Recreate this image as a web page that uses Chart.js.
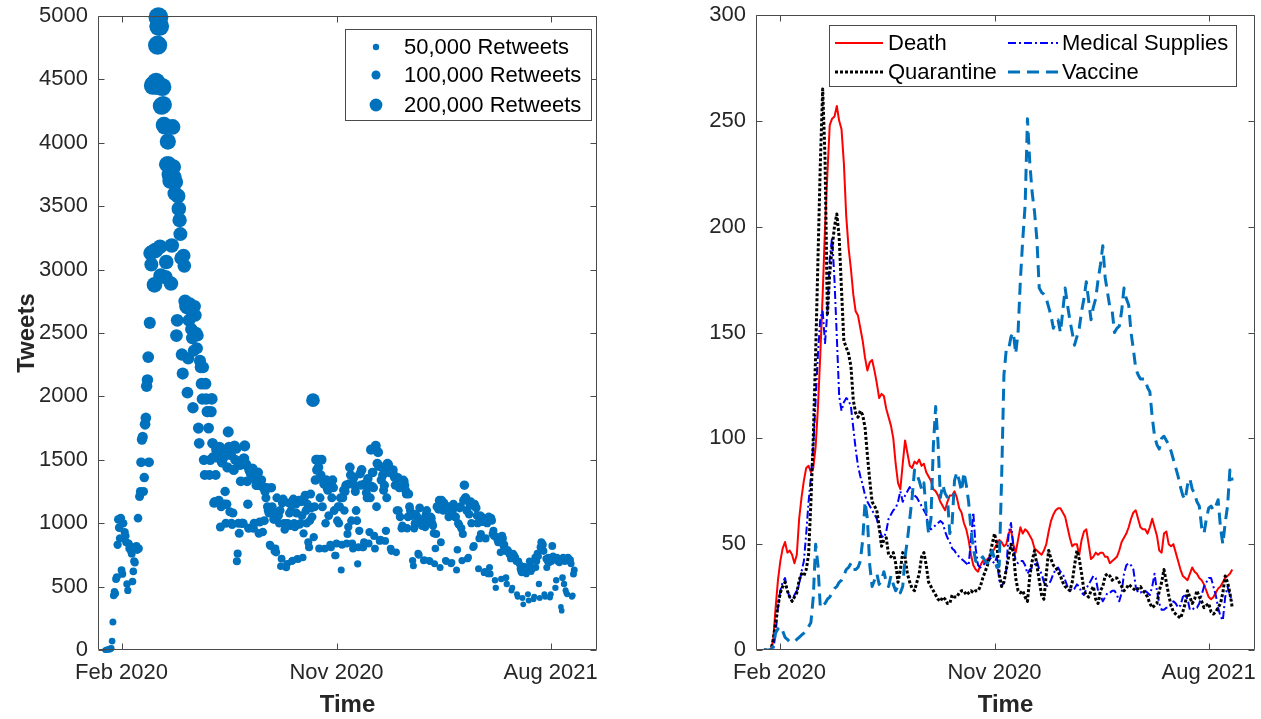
<!DOCTYPE html>
<html>
<head>
<meta charset="utf-8">
<title>COVID-19 tweets over time</title>
<script src="https://cdn.jsdelivr.net/npm/chart.js@4.4.1/dist/chart.umd.min.js"></script>
<style>
  html, body { margin: 0; padding: 0; background: #ffffff; }
  #wrap { position: relative; width: 1261px; height: 719px; overflow: hidden; }
  #tweets { position: absolute; left: 0; top: 0; width: 630px; height: 719px; }
  #topics { position: absolute; left: 630px; top: 0; width: 631px; height: 719px; }
</style>
</head>
<body>
<div id="wrap">
  <canvas id="tweets" width="630" height="719"></canvas>
  <canvas id="topics" width="631" height="719"></canvas>
</div>
<script>
// ---------------- Tweets per day (left panel), one value per day ----------------
const tweetsStart = '2020-01-11';
const dailyTweets = [
  0,0,4,0,6,2,10,
  5,14,70,220,430,460,445,
  560,575,830,1030,965,880,1040,
  630,600,1000,880,930,900,850,
  520,470,840,800,820,780,760,
  540,620,700,690,800,820,790,
  1040,800,1210,1250,1480,1660,1680,
  1250,1360,1780,1830,2080,2130,2310,
  1480,2580,3130,3040,3140,4450,4460,
  2880,3150,4480,4450,4770,4990,4920,
  3180,2950,4290,4440,4300,4140,4130,
  2940,3060,3830,4010,3830,3750,3700,
  2890,3190,4125,3810,3730,3600,3690,
  2480,2600,3580,3480,3390,3280,3090,
  2330,2180,3110,3030,2750,2710,2700,
  2030,2300,2600,2730,2680,2530,2460,
  1910,2360,2710,2640,2500,2380,2480,
  1750,1630,2280,2230,2100,1980,2230,
  1500,1380,2100,1980,1880,1880,1750,
  1380,1500,1880,1980,1630,1520,1160,
  1170,1380,1580,1520,1560,1180,1600,
  970,1130,1480,1560,1520,1150,1250,
  1000,1150,1440,1720,1600,1090,1540,
  1000,990,1080,1420,1610,1500,1590,
  700,760,1000,920,1460,1330,1000,
  1000,1000,1510,1610,1470,1460,1330,
  1150,960,1420,1410,1390,1380,1430,
  960,1000,1360,1340,1300,1300,1400,
  920,1010,1330,1340,1290,930,1280,
  1020,1250,1200,1280,1130,1100,1080,
  830,820,1280,1130,1070,1030,780,
  800,770,1200,1080,1060,1000,1100,
  660,720,1160,1190,1000,950,1000,
  650,680,1000,1160,1080,980,1100,
  700,705,1190,1000,970,1150,1080,
  720,715,1180,990,1000,1170,1060,
  730,920,1200,1220,1100,1000,1150,
  850,810,1020,1230,1120,1050,1970,
  890,1130,1340,1500,1420,1500,1440,
  800,1200,1380,1500,1130,1340,1310,
  800,1000,1340,1280,1260,1060,1290,
  830,810,1200,1340,1280,1100,745,
  745,840,1020,1130,1000,1130,1200,
  630,830,1200,1260,1100,1250,1300,
  840,915,970,1310,1440,1380,1020,
  840,800,1360,1300,1250,1100,1020,
  680,810,940,1390,1300,1420,810,
  810,850,1310,1300,1240,1200,1350,
  840,930,1200,1580,1290,1400,1280,
  900,800,1610,1130,1470,1560,1450,
  860,870,1340,1440,1380,1260,1300,
  860,940,1200,1470,1460,1400,1420,
  800,780,1400,1420,1380,1360,1300,
  770,1100,1360,1100,1280,1050,1330,
  960,980,1340,1330,1300,1260,1230,
  960,1050,1230,1130,1100,1080,1060,
  705,665,960,1000,1070,1000,1050,
  760,750,1120,1020,1000,980,1030,
  705,710,970,1070,1100,1050,1000,
  705,700,1050,1040,1000,980,920,
  680,800,915,1130,1130,1110,1180,
  650,850,1180,1150,1100,1160,1120,
  705,700,1130,1100,1050,1120,1130,
  680,690,1100,1150,1130,1050,1050,
  630,790,1000,990,1120,1130,960,
  705,915,1180,1300,1200,1200,1100,
  720,730,1070,1150,1170,1000,1140,
  810,820,1150,1130,1120,1060,1000,
  640,880,1060,915,1050,1010,1020,
  610,620,880,1020,1000,600,1050,
  650,600,1040,1020,915,940,900,
  550,490,890,870,850,880,850,
  770,560,900,880,820,830,780,
  570,520,790,780,760,750,720,
  470,490,760,750,740,730,700,
  440,420,700,680,640,620,610,
  410,360,660,630,610,600,640,
  440,390,700,680,620,650,640,
  400,420,730,650,700,760,740,
  520,410,810,850,840,830,780,
  440,420,720,650,700,730,690,
  415,440,700,820,740,730,720,
  490,550,730,700,720,690,710,
  340,310,570,730,520,700,470,
  450,440,730,720,700,710,680,
  420,430,600,630
];
// retweets per day, in thousands
const dailyRetweetsK = [
  40,40,45,40,45,40,50,
  45,50,55,60,70,70,70,
  75,75,85,95,90,85,95,
  75,75,90,85,85,85,80,
  70,65,80,80,80,75,75,
  70,70,75,75,80,80,80,
  90,80,100,100,120,130,130,
  100,110,140,140,160,160,170,
  120,180,260,240,250,400,400,
  300,300,420,420,450,480,480,
  260,280,380,400,380,330,330,
  260,260,320,320,320,300,300,
  260,260,300,290,280,270,270,
  200,200,270,260,250,240,230,
  190,180,240,230,220,220,210,
  170,180,200,210,200,190,190,
  160,170,200,200,190,180,180,
  150,140,180,180,170,160,170,
  130,120,170,160,150,150,140,
  120,130,160,170,140,140,120,
  110,120,140,130,140,110,140,
  100,100,130,140,130,110,110,
  100,110,130,150,140,100,140,
  100,100,100,130,140,130,140,
  80,80,100,100,130,120,100,
  100,100,140,150,130,130,120,
  110,100,130,130,130,120,130,
  100,100,120,120,120,120,120,
  90,100,120,120,110,90,110,
  100,110,100,110,100,100,100,
  80,80,110,100,100,100,80,
  80,80,100,100,100,90,100,
  70,75,100,100,90,90,90,
  70,70,90,100,95,90,95,
  70,70,100,90,90,100,95,
  70,70,100,90,90,100,95,
  70,85,100,100,95,90,95,
  80,80,90,100,95,90,230,
  85,100,110,120,115,120,115,
  80,100,110,120,100,110,110,
  75,90,110,105,105,95,105,
  75,75,100,110,105,95,70,
  70,75,90,95,90,95,100,
  60,75,100,100,90,100,105,
  75,80,85,105,115,110,90,
  75,75,110,105,100,95,90,
  65,75,85,110,105,115,75,
  75,75,105,105,100,100,110,
  75,85,100,125,105,115,105,
  80,75,125,95,115,120,115,
  75,75,105,115,110,100,105,
  75,85,100,115,115,110,110,
  75,70,110,110,110,105,105,
  70,90,105,90,100,90,105,
  85,85,105,105,100,100,100,
  85,90,100,95,90,90,90,
  65,60,85,90,90,85,90,
  70,70,95,90,85,85,90,
  65,65,85,90,95,90,85,
  65,65,90,90,85,85,80,
  60,70,80,95,95,95,100,
  60,75,100,95,90,95,95,
  65,65,95,90,90,95,95,
  60,60,90,95,95,90,90,
  60,70,85,85,95,95,85,
  65,80,100,110,100,100,95,
  65,65,90,95,95,85,95,
  70,75,95,95,95,90,85,
  60,75,90,80,90,85,85,
  55,55,80,85,85,55,90,
  60,55,90,85,80,80,80,
  50,50,80,75,75,80,75,
  70,50,80,80,75,75,70,
  55,50,70,70,70,70,65,
  45,45,70,70,70,65,65,
  45,45,65,65,60,60,60,
  45,40,60,60,60,55,60,
  45,45,65,65,60,60,60,
  45,45,65,60,65,70,70,
  50,45,75,75,75,75,70,
  45,45,65,60,65,65,65,
  45,45,65,75,65,65,65,
  50,50,65,65,65,65,65,
  40,40,55,65,50,65,45,
  45,45,65,65,65,65,60,
  45,45,60,60
];
const retweetLegendK = [50, 100, 200];
const retweetLegendLabels = ['50,000 Retweets', '100,000 Retweets', '200,000 Retweets'];

// ---------------- Topic tweets (right panel), one value every third day ----------------
const topicStart = '2020-01-12';
const topicStepDays = 3;
const topicNames = ['Death', 'Medical Supplies', 'Quarantine', 'Vaccine'];
const death = [
  0,0,0,0,5,20,33,42,48,51,
  46,47,45,41,45,62,72,80,86,87,
  84,86,96,115,140,168,200,225,248,251,
  252,257,250,246,230,205,190,180,168,160,
  158,152,146,138,132,136,137,132,126,119,
  121,120,114,110,106,100,88,79,76,88,
  99,93,87,86,89,88,90,87,88,84,
  82,80,76,75,73,70,68,66,70,73,
  73,75,72,67,65,60,57,52,45,40,
  38,37,40,42,41,43,44,46,48,50,
  52,51,49,50,55,57,50,46,52,58,
  55,57,56,54,52,48,47,46,45,47,
  50,56,61,64,66,67,67,65,63,58,
  53,49,50,50,45,52,56,57,50,43,
  44,46,45,46,46,44,44,41,42,43,
  44,47,51,53,55,58,62,65,66,62,
  58,57,57,55,58,62,58,54,47,46,
  55,56,50,49,50,46,42,38,35,34,
  33,36,39,37,36,34,33,31,28,25,
  24,25,27,29,30,32,34,35,36,38
];
const medicalSupplies = [
  0,0,0,0,0,8,20,28,32,34,
  28,25,23,26,28,31,37,42,55,70,
  82,96,118,140,157,160,145,160,185,195,
  175,148,120,113,117,119,118,115,105,95,
  87,82,78,73,70,68,66,64,62,57,
  54,53,56,62,64,66,67,70,75,70,
  73,75,77,74,73,72,70,68,66,64,
  58,57,58,59,60,61,60,56,53,51,
  48,47,45,44,43,42,41,40,52,65,
  48,40,39,40,41,42,44,42,41,44,
  33,30,32,38,55,60,49,42,41,42,
  42,40,36,38,39,40,42,38,36,32,
  30,31,33,36,38,39,37,36,33,30,
  29,28,29,31,30,27,26,29,31,33,
  35,34,28,26,23,25,27,27,28,28,
  26,23,27,36,40,41,40,38,30,27,
  27,28,28,27,26,30,36,28,22,19,
  19,20,20,21,23,22,20,21,25,26,
  24,19,19,20,20,22,26,30,32,34,
  34,30,26,20,16,14,25,30,26,23
];
const quarantine = [
  0,0,0,0,5,13,21,27,30,32,
  28,25,23,25,27,33,36,35,38,45,
  70,100,140,185,230,265,232,158,178,190,
  200,206,195,170,146,143,140,134,118,112,
  110,113,111,105,92,80,70,68,66,58,
  49,52,53,45,44,46,41,32,38,46,
  44,36,32,29,28,32,36,44,46,40,
  32,30,28,26,24,23,25,24,22,22,
  26,25,25,27,28,28,26,27,28,27,
  28,28,30,34,37,40,44,50,55,50,
  36,30,32,38,44,50,46,34,28,27,
  28,25,23,35,42,47,40,33,26,24,
  36,47,43,40,39,37,35,32,30,29,
  28,32,40,47,43,36,28,26,25,28,
  30,24,22,28,30,35,36,35,33,34,
  34,32,30,28,29,31,30,29,28,29,
  30,28,27,25,22,20,21,22,28,32,
  38,32,26,21,18,17,16,15,18,22,
  28,25,22,24,28,25,23,20,21,22,
  18,17,18,20,22,27,35,32,27,20
];
const vaccine = [
  0,0,0,0,2,8,10,11,9,6,
  5,4,4,4,5,6,7,8,9,11,
  13,25,50,40,20,21,22,24,25,27,
  29,30,32,33,35,38,39,41,38,38,
  39,42,52,70,62,40,30,33,36,31,
  33,37,32,30,35,31,28,30,27,30,
  44,52,62,72,85,83,80,76,79,65,
  55,62,96,115,98,72,78,74,72,55,
  60,80,84,80,75,84,78,70,57,48,
  42,41,43,44,42,41,44,47,43,39,
  40,80,130,142,142,148,150,140,150,175,
  194,210,251,230,216,207,194,171,169,168,
  166,162,158,152,155,156,150,160,171,163,
  156,150,144,148,152,160,166,174,165,156,
  162,166,175,182,191,176,169,162,160,150,
  152,153,160,171,166,163,150,142,133,130,
  128,128,128,124,122,110,101,97,95,100,
  101,99,97,94,90,86,82,77,73,71,
  78,81,76,74,70,68,58,55,62,67,
  68,66,68,71,58,50,60,68,85,80
];

// ---------------- Shared time axis ----------------
const axisStart = '2020-01-02';
const axisEnd = '2021-09-29';
const timeTickDates = ['2020-02-01', '2020-11-01', '2021-08-01'];
const timeTickLabels = ['Feb 2020', 'Nov 2020', 'Aug 2021'];

// ---------------- Helpers ----------------
const MS_PER_DAY = 86400000;
const EPOCH = Date.UTC(2020, 1, 1);
function dayNumber(iso) {
  const [y, m, d] = iso.split('-').map(Number);
  return (Date.UTC(y, m - 1, d) - EPOCH) / MS_PER_DAY;
}
const X_MIN = dayNumber(axisStart);
const X_MAX = dayNumber(axisEnd);
const TICK_DAYS = timeTickDates.map(dayNumber);

// marker area grows with the number of retweets
function markerRadius(k) { return 3.2 * Math.sqrt(k / 50); }

const FONT = '"Liberation Sans", Arial, Helvetica, sans-serif';
const TEXT = '#262626';
const FRAME = '#4a4a4a';
const MATLAB_BLUE = '#0072BD';
Chart.defaults.font.family = FONT;
Chart.defaults.color = TEXT;

const tweetPoints = dailyTweets.map((v, i) => ({ x: dayNumber(tweetsStart) + i, y: v }));
function topicPoints(values) {
  const s = dayNumber(topicStart);
  return values.map((v, i) => ({ x: s + i * topicStepDays, y: v }));
}

// axis box with inward tick marks on all four sides
const frameTicks = {
  id: 'frameTicks',
  afterDatasetsDraw(chart) {
    const { ctx, chartArea: a } = chart;
    const xs = chart.scales.x, ys = chart.scales.y;
    const len = 6;
    const L = Math.round(a.left) + 0.5, R = Math.round(a.right) - 0.5;
    const T = Math.round(a.top) + 0.5, B = Math.round(a.bottom) - 0.5;
    ctx.save();
    ctx.strokeStyle = FRAME;
    ctx.lineWidth = 1;
    ctx.beginPath();
    ctx.rect(L, T, R - L, B - T);
    xs.ticks.forEach(t => {
      const px = Math.round(xs.getPixelForValue(t.value)) + 0.5;
      ctx.moveTo(px, B); ctx.lineTo(px, B - len);
      ctx.moveTo(px, T); ctx.lineTo(px, T + len);
    });
    ys.ticks.forEach(t => {
      const py = Math.round(ys.getPixelForValue(t.value)) + 0.5;
      ctx.moveTo(L, py); ctx.lineTo(L + len, py);
      ctx.moveTo(R, py); ctx.lineTo(R - len, py);
    });
    ctx.stroke();
    ctx.restore();
  }
};

function timeAxis(tickPad) {
  return {
    type: 'linear',
    min: X_MIN,
    max: X_MAX,
    grid: { display: false, drawTicks: false },
    border: { display: false },
    afterBuildTicks: s => { s.ticks = TICK_DAYS.map(v => ({ value: v })); },
    ticks: {
      autoSkip: false, maxRotation: 0, minRotation: 0,
      padding: tickPad,
      font: { size: 22 },
      color: TEXT,
      callback: (v, i) => timeTickLabels[i]
    },
    title: { display: true, text: 'Time', color: TEXT, font: { size: 24, weight: 'bold', lineHeight: 1.1 }, padding: { top: 0, bottom: 0 } },
    afterFit: s => { s.height = 69; s.paddingLeft = 0; s.paddingRight = 0; }
  };
}

function valueAxis(max, step, width, title) {
  return {
    min: 0, max: max,
    grid: { display: false, drawTicks: false },
    border: { display: false },
    ticks: { stepSize: step, padding: 10, font: { size: 22 }, color: TEXT, callback: v => String(v) },
    title: title
      ? { display: true, text: title, color: TEXT, font: { size: 24, weight: 'bold' }, padding: { top: 13, bottom: 0 } }
      : { display: false },
    afterFit: s => { s.width = width; s.paddingTop = 0; s.paddingBottom = 0; }
  };
}

// ---------------- Left: tweets per day, sized by retweets ----------------
const retweetLegend = {
  id: 'retweetLegend',
  afterDraw(chart) {
    const ctx = chart.ctx;
    const box = { l: 345, t: 29, r: 592, b: 121 };
    const rows = [47, 75, 105];
    ctx.save();
    ctx.fillStyle = '#ffffff';
    ctx.fillRect(box.l, box.t, box.r - box.l, box.b - box.t);
    ctx.strokeStyle = FRAME;
    ctx.lineWidth = 1;
    ctx.strokeRect(box.l + 0.5, box.t + 0.5, box.r - box.l - 1, box.b - box.t - 1);
    ctx.font = '22px ' + FONT;
    ctx.textBaseline = 'middle';
    ctx.textAlign = 'left';
    retweetLegendK.forEach((k, i) => {
      ctx.fillStyle = MATLAB_BLUE;
      ctx.beginPath();
      ctx.arc(376, rows[i], markerRadius(k), 0, Math.PI * 2);
      ctx.fill();
      ctx.fillStyle = '#000000';
      ctx.fillText(retweetLegendLabels[i], 404, rows[i] + 1);
    });
    ctx.restore();
  }
};

new Chart(document.getElementById('tweets'), {
  type: 'scatter',
  data: {
    datasets: [{
      label: 'Tweets',
      data: tweetPoints,
      pointRadius: c => markerRadius(dailyRetweetsK[c.dataIndex]),
      pointHoverRadius: c => markerRadius(dailyRetweetsK[c.dataIndex]),
      pointBackgroundColor: MATLAB_BLUE,
      pointBorderWidth: 0,
      borderWidth: 0,
      clip: false
    }]
  },
  options: {
    responsive: false,
    animation: false,
    events: [],
    layout: { padding: { top: 16, right: 33, left: 0, bottom: 0 } },
    plugins: { legend: { display: false }, tooltip: { enabled: false } },
    scales: {
      x: timeAxis(10),
      y: valueAxis(5000, 500, 98, 'Tweets')
    }
  },
  plugins: [frameTicks, retweetLegend]
});

// ---------------- Right: tweets by topic ----------------
const topicStyles = [
  { color: '#FF0000', width: 2, dash: [] },
  { color: '#0000FF', width: 2, dash: [8, 3, 2, 3] },
  { color: '#000000', width: 3, dash: [3, 2] },
  { color: MATLAB_BLUE, width: 3, dash: [12, 7] }
];
const topicSeries = [death, medicalSupplies, quarantine, vaccine];

const topicLegend = {
  id: 'topicLegend',
  afterDraw(chart) {
    const ctx = chart.ctx;
    const box = { l: 199, t: 25, r: 607, b: 87 };
    const rows = [43, 72];
    const cols = [{ s: 205, e: 253, text: 258 }, { s: 378, e: 428, text: 432 }];
    ctx.save();
    ctx.fillStyle = '#ffffff';
    ctx.fillRect(box.l, box.t, box.r - box.l, box.b - box.t);
    ctx.strokeStyle = FRAME;
    ctx.lineWidth = 1;
    ctx.strokeRect(box.l + 0.5, box.t + 0.5, box.r - box.l - 1, box.b - box.t - 1);
    ctx.font = '22px ' + FONT;
    ctx.textBaseline = 'middle';
    ctx.textAlign = 'left';
    chart.data.datasets.forEach((ds, i) => {
      const col = cols[i % 2], y = rows[Math.floor(i / 2)];
      ctx.strokeStyle = ds.borderColor;
      ctx.lineWidth = ds.borderWidth;
      ctx.setLineDash(ds.borderDash || []);
      ctx.beginPath();
      ctx.moveTo(col.s, y);
      ctx.lineTo(col.e, y);
      ctx.stroke();
      ctx.setLineDash([]);
      ctx.fillStyle = '#000000';
      ctx.fillText(ds.label, col.text, y + 1);
    });
    ctx.restore();
  }
};

new Chart(document.getElementById('topics'), {
  type: 'line',
  data: {
    datasets: topicNames.map((name, i) => ({
      label: name,
      data: topicPoints(topicSeries[i]),
      borderColor: topicStyles[i].color,
      borderWidth: topicStyles[i].width,
      borderDash: topicStyles[i].dash,
      borderCapStyle: 'butt',
      borderJoinStyle: 'round',
      pointRadius: 0,
      tension: 0,
      fill: false,
      order: topicNames.length - i
    }))
  },
  options: {
    responsive: false,
    animation: false,
    events: [],
    layout: { padding: { top: 15, right: 6, left: 0, bottom: 0 } },
    plugins: { legend: { display: false }, tooltip: { enabled: false } },
    scales: {
      x: timeAxis(10),
      y: valueAxis(300, 50, 126, null)
    }
  },
  plugins: [frameTicks, topicLegend]
});
</script>
</body>
</html>
